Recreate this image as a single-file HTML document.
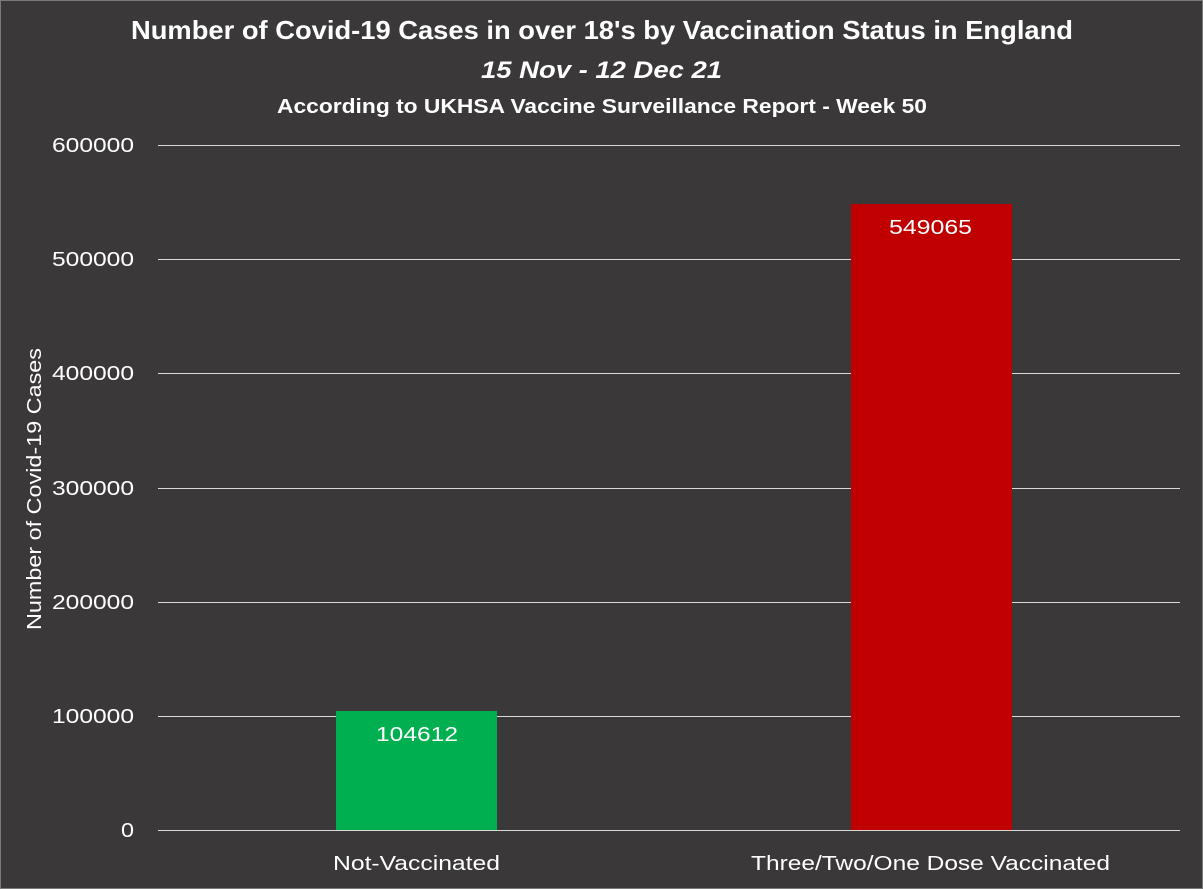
<!DOCTYPE html>
<html><head><style>
body{margin:0;background:#3a3839;}
svg{display:block}
text{font-family:"Liberation Sans",sans-serif;fill:#fff}
</style></head><body>
<svg width="1203" height="889" viewBox="0 0 1203 889">
<rect x="0" y="0" width="1203" height="889" fill="#3a3839"/>
<rect x="0.5" y="0.5" width="1202" height="888" fill="none" stroke="#7a7a7a"/>
<text x="131" y="39" font-size="26" font-weight="bold" textLength="942" lengthAdjust="spacingAndGlyphs">Number of Covid-19 Cases in over 18's by Vaccination Status in England</text>
<text x="481" y="78" font-size="24" font-weight="bold" font-style="italic" textLength="241" lengthAdjust="spacingAndGlyphs">15 Nov - 12 Dec 21</text>
<text x="277" y="113" font-size="20" font-weight="bold" textLength="650" lengthAdjust="spacingAndGlyphs">According to UKHSA Vaccine Surveillance Report - Week 50</text>
<g stroke="#d9d9d9" stroke-width="1">
<line x1="158" y1="145.5" x2="1180" y2="145.5"/>
<line x1="158" y1="259.5" x2="1180" y2="259.5"/>
<line x1="158" y1="373.5" x2="1180" y2="373.5"/>
<line x1="158" y1="488.5" x2="1180" y2="488.5"/>
<line x1="158" y1="602.5" x2="1180" y2="602.5"/>
<line x1="158" y1="716.5" x2="1180" y2="716.5"/>
<line x1="158" y1="830.5" x2="1180" y2="830.5"/>
</g>
<g font-size="20">
<text x="52" y="152" textLength="82" lengthAdjust="spacingAndGlyphs">600000</text>
<text x="52" y="266" textLength="82" lengthAdjust="spacingAndGlyphs">500000</text>
<text x="52" y="380" textLength="82" lengthAdjust="spacingAndGlyphs">400000</text>
<text x="52" y="495" textLength="82" lengthAdjust="spacingAndGlyphs">300000</text>
<text x="52" y="609" textLength="82" lengthAdjust="spacingAndGlyphs">200000</text>
<text x="52" y="723" textLength="82" lengthAdjust="spacingAndGlyphs">100000</text>
<text x="121" y="837" textLength="13" lengthAdjust="spacingAndGlyphs">0</text>
</g>
<text transform="translate(41,630) rotate(-90)" font-size="20" textLength="282" lengthAdjust="spacingAndGlyphs">Number of Covid-19 Cases</text>
<rect x="336" y="711" width="161" height="119" fill="#00b050"/>
<rect x="851" y="204" width="161" height="626" fill="#c00000"/>
<text x="376" y="741" font-size="20" textLength="82" lengthAdjust="spacingAndGlyphs">104612</text>
<text x="889" y="234" font-size="20" textLength="83" lengthAdjust="spacingAndGlyphs">549065</text>
<text x="333" y="870" font-size="20" textLength="167" lengthAdjust="spacingAndGlyphs">Not-Vaccinated</text>
<text x="751" y="870" font-size="20" textLength="359" lengthAdjust="spacingAndGlyphs">Three/Two/One Dose Vaccinated</text>
</svg>
</body></html>
